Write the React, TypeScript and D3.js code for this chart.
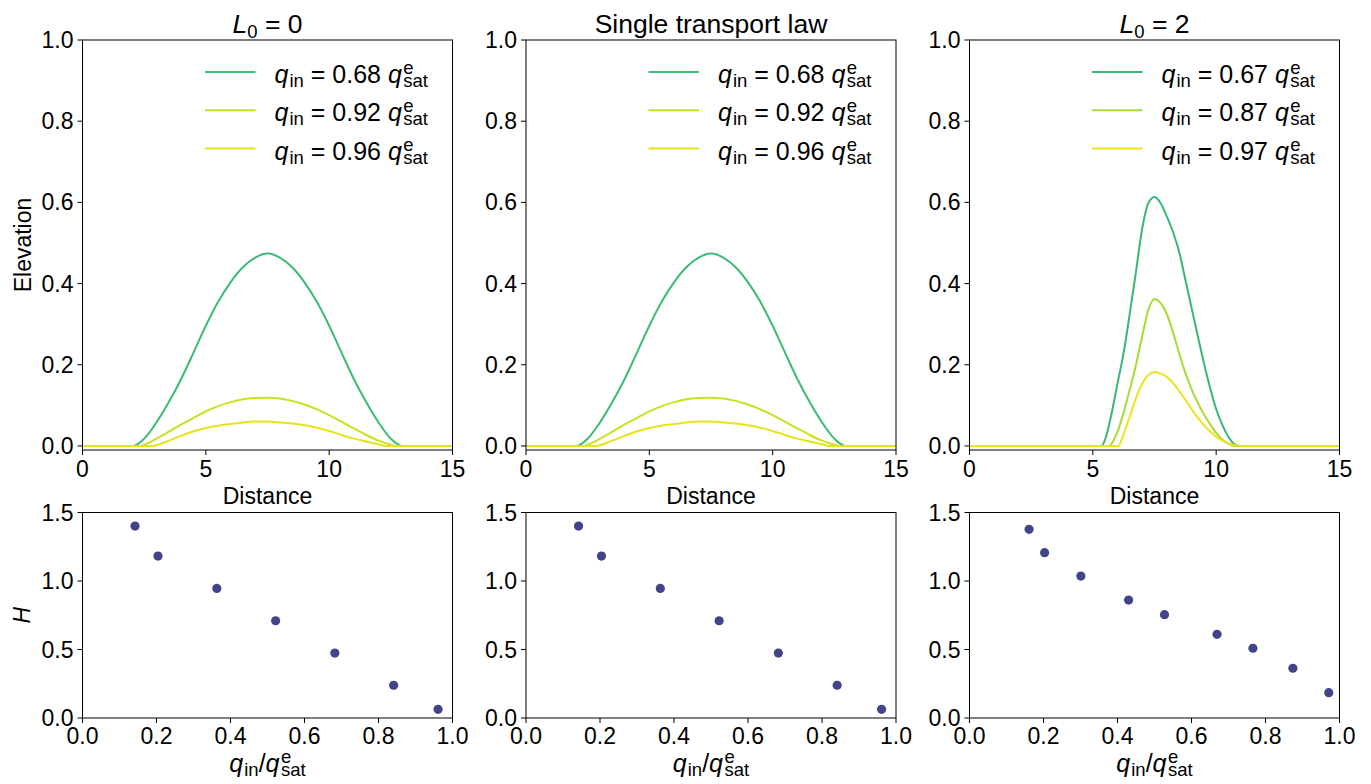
import React from "react";
import * as d3 from "d3";

// ---------- DATA ----------
const panelTitles = ["L0 = 0", "Single transport law", "L0 = 2"];

// L0 = 0 profiles (distance, elevation)
const l0Dist068 = [0, 2.05, 2.5, 3.0, 3.5, 4.0, 4.5, 5.0, 5.5, 6.0, 6.5, 7.0, 7.5, 8.0, 8.5, 9.0, 9.5, 10.0, 10.5, 11.0, 11.5, 12.0, 12.5, 12.95, 15];
const l0Elev068 = [0, 0, 0.018, 0.058, 0.108, 0.165, 0.23, 0.296, 0.355, 0.403, 0.44, 0.464, 0.474, 0.464, 0.44, 0.403, 0.355, 0.296, 0.23, 0.165, 0.108, 0.058, 0.018, 0, 0];
const l0Dist092 = [0, 2.3, 3.0, 3.5, 4.0, 4.5, 5.0, 5.5, 6.0, 6.5, 7.0, 7.5, 8.0, 8.5, 9.0, 9.5, 10.0, 10.5, 11.0, 11.5, 12.0, 12.5, 12.7, 15];
const l0Elev092 = [0, 0, 0.018, 0.035, 0.053, 0.069, 0.085, 0.098, 0.108, 0.115, 0.118, 0.119, 0.117, 0.111, 0.102, 0.09, 0.076, 0.06, 0.043, 0.027, 0.013, 0.003, 0, 0];
const l0Dist096 = [0, 2.8, 3.5, 4.0, 4.5, 5.0, 5.5, 6.0, 6.5, 7.0, 7.5, 8.0, 8.5, 9.0, 9.5, 10.0, 10.5, 11.0, 11.5, 12.0, 12.3, 15];
const l0Elev096 = [0, 0, 0.013, 0.025, 0.036, 0.044, 0.05, 0.054, 0.058, 0.06, 0.06, 0.058, 0.055, 0.051, 0.045, 0.037, 0.027, 0.018, 0.011, 0.004, 0, 0];

// Single transport law profiles
const stDist068 = l0Dist068;
const stElev068 = l0Elev068;
const stDist092 = l0Dist092;
const stElev092 = l0Elev092;
const stDist096 = l0Dist096;
const stElev096 = l0Elev096;

// L0 = 2 profiles
const l2Dist067 = [0, 5.35, 5.5, 5.75, 6.0, 6.25, 6.5, 6.75, 7.0, 7.25, 7.5, 7.75, 8.0, 8.25, 8.5, 8.75, 9.0, 9.25, 9.5, 9.75, 10.0, 10.25, 10.5, 10.75, 11.0, 15];
const l2Elev067 = [0, 0, 0.016, 0.077, 0.154, 0.23, 0.327, 0.43, 0.535, 0.598, 0.613, 0.598, 0.565, 0.527, 0.478, 0.41, 0.341, 0.272, 0.205, 0.144, 0.091, 0.052, 0.022, 0.004, 0, 0];
const l2Dist087 = [0, 5.65, 6.0, 6.25, 6.5, 6.75, 7.0, 7.25, 7.5, 7.75, 8.0, 8.25, 8.5, 8.75, 9.0, 9.25, 9.5, 9.75, 10.0, 10.25, 10.5, 10.75, 15];
const l2Elev087 = [0, 0, 0.035, 0.083, 0.14, 0.2, 0.27, 0.335, 0.362, 0.352, 0.325, 0.28, 0.228, 0.18, 0.14, 0.107, 0.078, 0.054, 0.032, 0.016, 0.005, 0, 0];
const l2Dist097 = [0, 6.03, 6.25, 6.5, 6.75, 7.0, 7.25, 7.5, 7.75, 8.0, 8.25, 8.5, 8.75, 9.0, 9.25, 9.5, 9.75, 10.0, 10.25, 10.5, 10.75, 11.0, 15];
const l2Elev097 = [0, 0, 0.03, 0.073, 0.118, 0.153, 0.175, 0.182, 0.178, 0.17, 0.155, 0.135, 0.114, 0.091, 0.07, 0.052, 0.036, 0.023, 0.013, 0.006, 0.002, 0, 0];

const legendValues = [
  [0.68, 0.92, 0.96],
  [0.68, 0.92, 0.96],
  [0.67, 0.87, 0.97],
];

// H vs q_in / q_sat
const l0Q = [0.142, 0.204, 0.363, 0.522, 0.682, 0.841, 0.961];
const l0H = [1.401, 1.182, 0.946, 0.71, 0.474, 0.239, 0.063];
const stQ = [0.142, 0.204, 0.363, 0.522, 0.682, 0.841, 0.961];
const stH = [1.401, 1.182, 0.946, 0.71, 0.474, 0.239, 0.063];
const l2Q = [0.161, 0.203, 0.301, 0.43, 0.527, 0.669, 0.766, 0.874, 0.971];
const l2H = [1.377, 1.207, 1.036, 0.861, 0.754, 0.611, 0.509, 0.363, 0.185];

const topXTicks = [0, 5, 10, 15];
const topYTicks = [0, 0.2, 0.4, 0.6, 0.8, 1.0];
const botXTicks = [0, 0.2, 0.4, 0.6, 0.8, 1.0];
const botYTicks = [0, 0.5, 1.0, 1.5];

// ---------- LAYOUT ----------
const W = 1371;
const H = 784;
const panelLefts = [82.5, 526, 969.5];
const panelW = 370;
const topY0 = 40;
const topY1 = 450;
const botY0 = 512.5;
const botY1 = 718;
const FONT = "'Liberation Sans', Arial, Helvetica, sans-serif";
const FS = 23;
const MFS = 25;
const SUB = 18.5;
const dotColor = "#414487";
const tickFmt1 = d3.format(".1f");

const profiles = [
  [[l0Dist068, l0Elev068], [l0Dist092, l0Elev092], [l0Dist096, l0Elev096]],
  [[stDist068, stElev068], [stDist092, stElev092], [stDist096, stElev096]],
  [[l2Dist067, l2Elev067], [l2Dist087, l2Elev087], [l2Dist097, l2Elev097]],
];
const scatters = [[l0Q, l0H], [stQ, stH], [l2Q, l2H]];

function Title({ t, x }: { t: string; x: number }) {
  if (t.startsWith("L0")) {
    const rest = t.slice(2);
    return (
      <text x={x} y={33} fontSize={26.5} textAnchor="middle" style={{ whiteSpace: "pre" }}>
        <tspan fontStyle="italic">L</tspan>
        <tspan fontSize={18.5} dy={5}>0</tspan>
        <tspan dy={-5}>{rest}</tspan>
      </text>
    );
  }
  return (
    <text x={x} y={33} fontSize={26.5} textAnchor="middle">
      {t}
    </text>
  );
}

function QLabel({ x, y, anchor, value }: { x: number; y: number; anchor: string; value?: number }) {
  return (
    <text x={x} y={y} fontSize={MFS} textAnchor={anchor} style={{ whiteSpace: "pre" }}>
      <tspan fontStyle="italic">q</tspan>
      <tspan fontSize={SUB} dx={1} dy={4}>in</tspan>
      {value !== undefined ? (
        <tspan dy={-4}>{` = ${value.toFixed(2)} `}</tspan>
      ) : (
        <tspan dy={-4}>/</tspan>
      )}
      <tspan fontStyle="italic">q</tspan>
      <tspan fontSize={SUB} dx={1.5} dy={-9}>e</tspan>
      <tspan fontSize={SUB} dx={-10.3} dy={13}>sat</tspan>
    </text>
  );
}

function TopPanel({ idx }: { idx: number }) {
  const left = panelLefts[idx];
  const x = d3.scaleLinear().domain([0, 15]).range([left, left + panelW]);
  const y = d3.scaleLinear().domain([-0.01, 1.0]).range([topY1, topY0]);
  const line = d3
    .line<[number, number]>()
    .x((d) => x(d[0]))
    .y((d) => y(d[1]))
    .curve(d3.curveMonotoneX);
  const clipId = `clipTop${idx}`;
  return (
    <g>
      <defs>
        <clipPath id={clipId}>
          <rect x={left} y={topY0} width={panelW} height={topY1 - topY0} />
        </clipPath>
      </defs>
      <g clipPath={`url(#${clipId})`}>
        {profiles[idx].map(([xs, ys], i) => {
          const q = legendValues[idx][i];
          const pts = xs.map((v, k) => [v, ys[k]] as [number, number]);
          return (
            <path key={i} d={line(pts) || ""} fill="none" stroke={d3.interpolateViridis(q)} strokeWidth={2} />
          );
        })}
      </g>
      <rect x={left} y={topY0} width={panelW} height={topY1 - topY0} fill="none" stroke="#000" strokeWidth={1} />
      {topYTicks.map((t) => (
        <g key={t}>
          <line x1={left - 5} x2={left} y1={y(t)} y2={y(t)} stroke="#000" />
          <text x={left - 9} y={y(t) + 8} fontSize={FS} textAnchor="end">
            {tickFmt1(t)}
          </text>
        </g>
      ))}
      {topXTicks.map((t) => (
        <g key={t}>
          <line x1={x(t)} x2={x(t)} y1={topY1} y2={topY1 + 5} stroke="#000" />
          <text x={x(t)} y={topY1 + 27} fontSize={FS} textAnchor="middle">
            {t}
          </text>
        </g>
      ))}
      <text x={left + panelW / 2} y={504} fontSize={FS} textAnchor="middle">
        Distance
      </text>
      <Title t={panelTitles[idx]} x={left + panelW / 2} />
      {legendValues[idx].map((q, i) => {
        const ly = 72 + i * 38.3;
        return (
          <g key={i}>
            <line x1={left + 122.5} x2={left + 173} y1={ly} y2={ly} stroke={d3.interpolateViridis(q)} strokeWidth={2} />
            <QLabel x={left + 192} y={ly + 11} anchor="start" value={q} />
          </g>
        );
      })}
      {idx === 0 && (
        <text transform={`translate(31, ${(topY0 + topY1) / 2}) rotate(-90)`} fontSize={FS} textAnchor="middle">
          Elevation
        </text>
      )}
    </g>
  );
}

function BottomPanel({ idx }: { idx: number }) {
  const left = panelLefts[idx];
  const x = d3.scaleLinear().domain([0, 1]).range([left, left + panelW]);
  const y = d3.scaleLinear().domain([0, 1.5]).range([botY1, botY0]);
  const [qs, hs] = scatters[idx];
  return (
    <g>
      <rect x={left} y={botY0} width={panelW} height={botY1 - botY0} fill="none" stroke="#000" strokeWidth={1} />
      {qs.map((q, i) => (
        <circle key={i} cx={x(q)} cy={y(hs[i])} r={4.6} fill={dotColor} />
      ))}
      {botYTicks.map((t) => (
        <g key={t}>
          <line x1={left - 5} x2={left} y1={y(t)} y2={y(t)} stroke="#000" />
          <text x={left - 9} y={y(t) + 8} fontSize={FS} textAnchor="end">
            {tickFmt1(t)}
          </text>
        </g>
      ))}
      {botXTicks.map((t) => (
        <g key={t}>
          <line x1={x(t)} x2={x(t)} y1={botY1} y2={botY1 + 5} stroke="#000" />
          <text x={x(t)} y={botY1 + 26} fontSize={FS} textAnchor="middle">
            {tickFmt1(t)}
          </text>
        </g>
      ))}
      <QLabel x={left + panelW / 2} y={772} anchor="middle" />
      {idx === 0 && (
        <text
          transform={`translate(30, ${(botY0 + botY1) / 2}) rotate(-90)`}
          fontSize={FS}
          fontStyle="italic"
          textAnchor="middle"
        >
          H
        </text>
      )}
    </g>
  );
}

export default function App() {
  return (
    <svg
      width={W}
      height={H}
      viewBox={`0 0 ${W} ${H}`}
      style={{ position: "absolute", left: 0, top: 0, background: "#fff" }}
      fontFamily={FONT}
      fill="#000"
    >
      <rect x={0} y={0} width={W} height={H} fill="#fff" />
      {[0, 1, 2].map((i) => (
        <TopPanel key={`t${i}`} idx={i} />
      ))}
      {[0, 1, 2].map((i) => (
        <BottomPanel key={`b${i}`} idx={i} />
      ))}
    </svg>
  );
}
